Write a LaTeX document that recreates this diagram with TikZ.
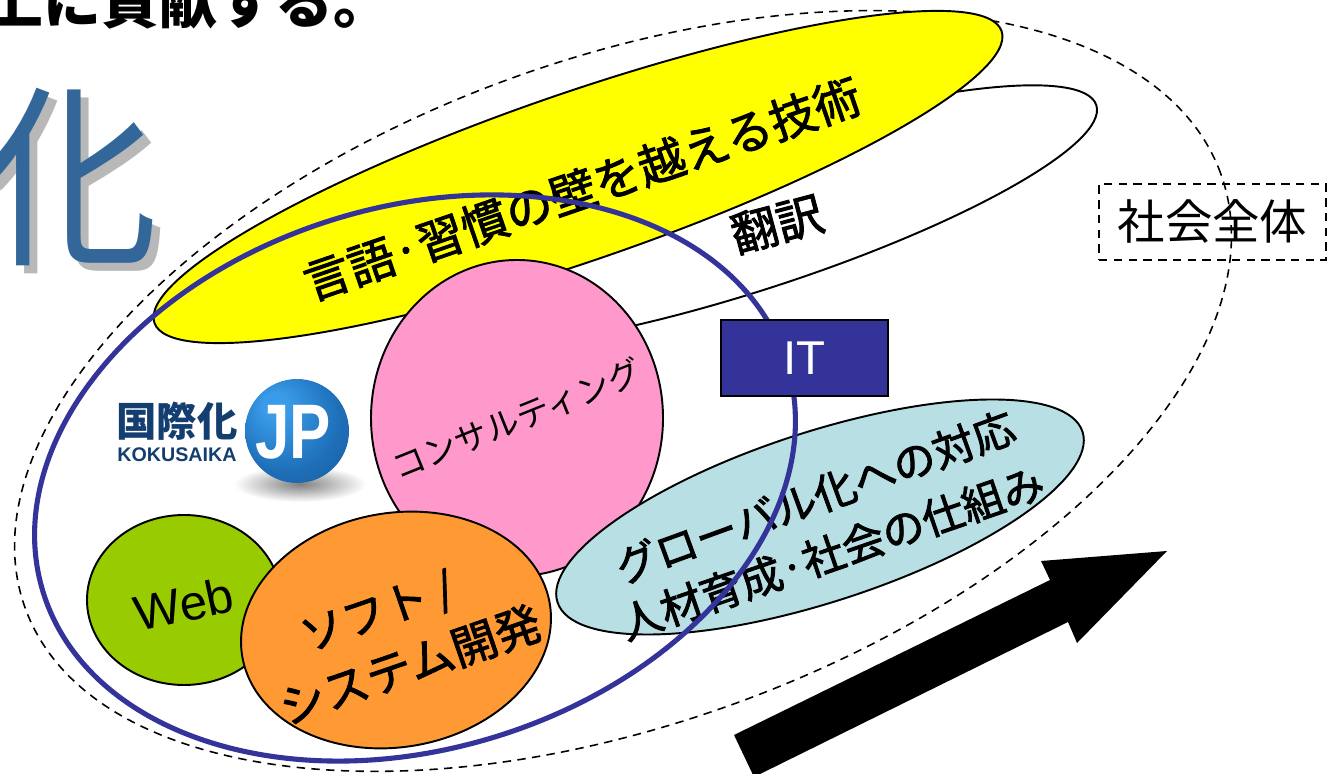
\documentclass[tikz,border=0pt]{standalone}
\usepackage{fontspec}
\setmainfont{Liberation Sans}
\newfontfamily\jpfont{Noto Sans CJK JP}
\newfontfamily\jpheavy[FakeBold=2]{Noto Sans CJK JP}
\usetikzlibrary{fadings}
\definecolor{itblue}{HTML}{333399}
\definecolor{kanjiblue}{HTML}{336699}
\definecolor{logoblue}{HTML}{133E6F}
\definecolor{fullyellow}{HTML}{FFFF00}
\definecolor{kanjigray}{HTML}{B8B8B8}
\definecolor{balllight}{HTML}{3A9BE8}
\definecolor{ballmid}{HTML}{1E6FB8}
\definecolor{balldark}{HTML}{14508F}
\pgfdeclareradialshading{jpball}{\pgfpoint{-12bp}{14bp}}{color(0bp)=(balllight);color(6bp)=(balllight);color(26bp)=(ballmid);color(50bp)=(balldark)}
\tikzfading[name=shadowfade,inner color=transparent!0,outer color=transparent!100]
\tikzset{
  blob/.style={draw=black,line width=.55pt},
  fine dash/.style={line width=.45pt,dash pattern=on 2.4pt off 1.8pt},
  biglabel/.style={font=\jpheavy\fontsize{13.3}{15}\selectfont,inner sep=0pt},
  midlabel/.style={font=\jpheavy\fontsize{12}{14}\selectfont,inner sep=0pt},
}
\begin{document}
\begin{tikzpicture}
                \useasboundingbox (0,0) rectangle (13.4,7.74);
                \clip (0,0) rectangle (13.4,7.74);
                \node [font=\jpfont\bfseries\fontsize{16.5}{18}\selectfont,anchor=base east,inner sep=0pt] (heading) at (3.92,7.5) {上に貢献する。};
                \node [font=\jpfont\fontsize{56}{56}\selectfont,text=kanjigray,inner sep=0pt,xscale=.9,transform shape] (kanjishadow) at (.78,5.89) {化};
                \node [font=\jpfont\fontsize{56}{56}\selectfont,text=kanjiblue,inner sep=0pt,xscale=.9,transform shape] (kanji) at (.7,5.97) {化};
                \draw [fine dash] [rotate around={20:(6.23,3.83)}] (6.23,3.83) ellipse [x radius=6.36,y radius=3.32];
                \draw [blob,fill=white] [rotate around={18:(7.52,5.57)}] (7.52,5.57) ellipse [x radius=3.62,y radius=.73];
                \draw [blob,fill=fullyellow] [rotate around={19:(5.78,5.97)}] (5.78,5.97) ellipse [x radius=4.48,y radius=.84];
                \draw [blob,fill={rgb,255:red,255;green,153;blue,204}] (5.17,3.56) ellipse [x radius=1.46,y radius=1.58];
                \draw [blob,fill={rgb,255:red,153;green,204;blue,0}] (1.84,1.74) ellipse [x radius=.97,y radius=.85];
                \draw [blob,fill={rgb,255:red,255;green,153;blue,51}] [rotate around={10:(3.96,1.44)}] (3.96,1.44) ellipse [x radius=1.56,y radius=1.17];
                \draw [blob,fill={rgb,255:red,184;green,223;blue,227}] [rotate around={18:(8.2,2.57)}] (8.2,2.57) ellipse [x radius=2.76,y radius=.85];
                \fill [black!50,path fading=shadowfade] (3,2.9) ellipse [x radius=.66,y radius=.18];
                \shade [shading=jpball] (2.97,3.43) circle [radius=.52];
                \node [font=\bfseries\fontsize{22}{22}\selectfont,text=white,inner sep=0pt,xscale=.8,transform shape] (jp) at (2.93,3.42) {JP};
                \node [font=\jpfont\bfseries\fontsize{11.5}{11.5}\selectfont,text=logoblue,inner sep=0pt] (logotext) at (1.77,3.53) {国際化};
                \node [font=\bfseries\fontsize{5.6}{5.6}\selectfont,text=logoblue,inner sep=0pt] (logosub) at (1.77,3.195) {KOKUSAIKA};
                \fill (7.34,.39) -- (10.5,1.94) -- (10.41,2.13) -- (11.67,2.23) -- (10.77,1.31) -- (10.68,1.52) -- (7.54,-.03) -- cycle;
                \node [biglabel,rotate=19] (language) at (5.82,5.85) {言語·習慣の壁を越える技術};
                \node [biglabel,rotate=15] (translation) at (7.77,5.5) {翻訳};
                \node [font=\jpfont\fontsize{9.5}{12}\selectfont,inner sep=0pt,rotate=22] (consulting) at (5.17,3.55) {コンサルティング};
                \node [font=\fontsize{14}{16}\selectfont,inner sep=0pt,rotate=12] (web) at (1.84,1.7) {Web};
                \node [biglabel,font=\jpheavy\fontsize{12.5}{15}\selectfont,rotate=19] (softa) at (3.78,1.6) {ソフト /};
                \node [biglabel,font=\jpheavy\fontsize{13}{15}\selectfont,rotate=19] (softb) at (4.1,1.09) {システム開発};
                \node [midlabel,rotate=20] (globala) at (8.15,2.77) {グローバル化への対応};
                \node [midlabel,rotate=19] (globalb) at (8.32,2.21) {人材育成·社会の仕組み};
                \draw [line width=1.45pt,itblue] [rotate around={17:(4.15,2.96)}] (4.15,2.96) ellipse [x radius=3.89,y radius=2.71];
                \node [draw=black,fill=itblue,text=white,minimum width=1.67cm,minimum height=.76cm,inner sep=0pt,font=\fontsize{13.5}{15}\selectfont] (it) at (8.045,4.16) {IT};
                \node [draw=black,fine dash,minimum width=2.27cm,minimum height=.76cm,inner sep=0pt,font=\jpfont\fontsize{13.5}{15}\selectfont] (society) at (12.125,5.52) {\raisebox{-.05cm}{社会全体}};
            \end{tikzpicture}
\end{document}
